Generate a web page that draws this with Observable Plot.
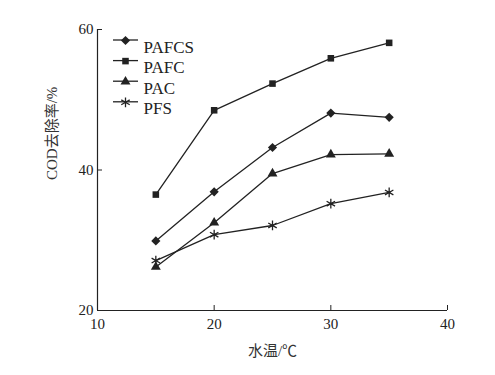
<!DOCTYPE html>
<html><head><meta charset="utf-8">
<script src="https://cdn.jsdelivr.net/npm/d3@7"></script>
<script src="https://cdn.jsdelivr.net/npm/@observablehq/plot@0.6"></script>
<style>
html,body{margin:0;padding:0;background:#fff;}
svg{font-family:"Liberation Serif","Noto Sans CJK SC",serif;}
</style></head>
<body><div id="chart"></div>
<script>
const temps = [15, 20, 25, 30, 35];
const seriesNames = ["PAFCS", "PAFC", "PAC", "PFS"];
const pafcs = [29.9, 36.9, 43.2, 48.1, 47.5];
const pafc = [36.5, 48.5, 52.3, 55.9, 58.1];
const pac = [26.2, 32.5, 39.5, 42.2, 42.3];
const pfs = [27.1, 30.8, 32.1, 35.2, 36.8];
const xTicks = [10, 20, 30, 40];
const yTicks = [20, 40, 60];
const xLabel = "水温/℃";
const yLabel = "COD去除率/%";

const valuesBySeries = [pafcs, pafc, pac, pfs];
const ink = "#222";

const squareDiamond = {
  draw(ctx, size) {
    const r = Math.sqrt(size / Math.PI) * 1.15;
    ctx.moveTo(0, -r); ctx.lineTo(r, 0); ctx.lineTo(0, r); ctx.lineTo(-r, 0); ctx.closePath();
  }
};
const symbols = [squareDiamond, "square", "triangle", "asterisk"];
const sizes = [4.0, 3.7, 3.7, 4.6];
const strokeSym = [false, false, false, true];

const data = [];
seriesNames.forEach((s, i) => temps.forEach((t, j) => data.push({series: s, t, v: valuesBySeries[i][j]})));

const legendDy = i => 11 + i * 20.6;

const chart = Plot.plot({
  width: 495, height: 375,
  marginLeft: 97, marginRight: 48, marginTop: 29, marginBottom: 65,
  x: {domain: [10, 40]},
  y: {domain: [20, 60]},
  style: {background: "#fff", color: ink},
  marks: [
    Plot.ruleX([10], {stroke: ink, strokeWidth: 1.2}),
    Plot.ruleY([20], {stroke: ink, strokeWidth: 1.2}),
    Plot.axisX({ticks: xTicks, tickSize: -5, tickPadding: 13, fontSize: 15, tickFormat: d => d, stroke: ink, label: null}),
    Plot.axisY({ticks: yTicks, tickSize: -5, tickPadding: 9, fontSize: 15, tickFormat: d => d, stroke: ink, label: null}),
    Plot.text([xLabel], {frameAnchor: "bottom", dy: 45, fontSize: 15, fill: "#333", text: d => d}),
    Plot.text([yLabel], {frameAnchor: "left", dx: -45, dy: 10, rotate: -90, fontSize: 15, fill: "#333", text: d => d}),
    Plot.line(data, {x: "t", y: "v", z: "series", stroke: ink, strokeWidth: 1.3}),
    ...seriesNames.map((s, i) => Plot.dot(data.filter(d => d.series === s), {x: "t", y: "v", symbol: symbols[i], r: sizes[i],
      fill: strokeSym[i] ? "none" : ink, stroke: strokeSym[i] ? ink : "none", strokeWidth: 1.3})),
    ...seriesNames.map((s, i) => Plot.text([s], {frameAnchor: "top-left", dx: 46, dy: legendDy(i), text: d => d,
      textAnchor: "start", fontSize: 17, fill: "#222"})),
    ...seriesNames.map((s, i) => Plot.dot([s], {frameAnchor: "top-left", dx: 28, dy: legendDy(i), symbol: symbols[i], r: sizes[i],
      fill: strokeSym[i] ? "none" : ink, stroke: strokeSym[i] ? ink : "none", strokeWidth: 1.3}))
  ]
});
document.getElementById("chart").appendChild(chart);

// legend line segments
const svg = d3.select(chart);
seriesNames.forEach((s, i) => {
  const y = 29 + legendDy(i);
  svg.append("line")
    .attr("x1", 97 + 16).attr("x2", 97 + 41).attr("y1", y).attr("y2", y)
    .attr("stroke", ink).attr("stroke-width", 1.3);
});
</script></body></html>
